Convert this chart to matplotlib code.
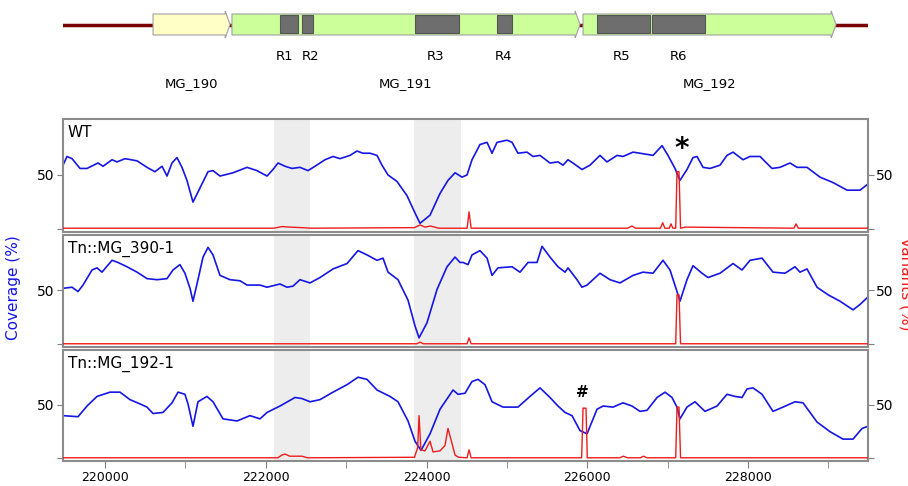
import matplotlib.pyplot as plt
from matplotlib.patches import Polygon, Rectangle

# genome window shown
x_min, x_max = 219478, 229492

# gene map
genes = ["MG_190", "MG_191", "MG_192"]
gene_start = [220598, 221580, 225947]
gene_end = [221556, 225909, 229094]
gene_colors = ["#ffffc6", "#ccff99", "#ccff99"]

regions = ["R1", "R2", "R3", "R4", "R5", "R6"]
region_start = [222177, 222451, 223857, 224877, 226121, 226806]
region_end = [222401, 222588, 224405, 225064, 226781, 227465]
region_label_x = [222240, 222560, 224118, 224960, 226430, 227140]

shaded = [(222103, 222551), (223844, 224429)]

samples = ["WT", "Tn::MG_390-1", "Tn::MG_192-1"]

# coverage (%) per sample
wt_pos = [219478, 219528, 219590, 219690, 219777, 219913, 219976, 220088, 220150, 220249,
          220399, 220523, 220622, 220710, 220772, 220834, 220896, 220958, 221020, 221095,
          221182, 221282, 221344, 221431, 221593, 221767, 221891, 222016, 222090, 222153,
          222240, 222327, 222426, 222526, 222613, 222737, 222837, 222924, 223048, 223135,
          223210, 223297, 223384, 223446, 223521, 223633, 223757, 223857, 223919, 224044,
          224168, 224267, 224355, 224442, 224504, 224566, 224665, 224753, 224815, 224877,
          225001, 225064, 225138, 225250, 225325, 225412, 225536, 225636, 225698, 225760,
          225822, 225934, 226034, 226158, 226245, 226370, 226444, 226569, 226656, 226818,
          226930, 227004, 227091, 227153, 227240, 227315, 227365, 227440, 227527, 227651,
          227738, 227813, 227937, 228024, 228149, 228298, 228397, 228522, 228609, 228733,
          228895, 229057, 229231, 229393, 229480]
wt_cov = [59, 67, 65, 56, 56, 61, 58, 64, 62, 65,
          63, 57, 53, 58, 49, 61, 66, 57, 45, 25,
          38, 53, 54, 49, 52, 57, 54, 49, 55, 61,
          58, 56, 57, 54, 58, 64, 67, 65, 68, 72,
          70, 70, 68, 59, 50, 44, 31, 15, 5.5, 13,
          33, 45, 52, 48, 50, 64, 78, 80, 70, 80,
          82, 80, 70, 71, 67, 68, 61, 62, 59, 64,
          61, 55, 59, 68, 62, 68, 67, 71, 70, 68,
          77, 68, 56, 45, 55, 66, 67, 57, 56, 59,
          68, 71, 64, 67, 67, 56, 57, 61, 57, 57,
          48, 43, 36, 36, 41]

m390_pos = [219478, 219590, 219665, 219727, 219839, 219901, 219963, 220088, 220162, 220274,
            220399, 220523, 220647, 220772, 220846, 220933, 220995, 221058, 221095, 221157,
            221220, 221282, 221344, 221431, 221555, 221680, 221767, 221929, 222016, 222177,
            222265, 222339, 222426, 222551, 222675, 222837, 223011, 223148, 223260, 223384,
            223459, 223521, 223645, 223770, 223857, 223907, 224006, 224131, 224255, 224355,
            224417, 224454, 224516, 224566, 224665, 224753, 224815, 224889, 225064, 225163,
            225263, 225375, 225437, 225536, 225636, 225723, 225760, 225872, 225934, 225997,
            226158, 226283, 226407, 226569, 226693, 226818, 226942, 227029, 227116, 227153,
            227240, 227315, 227427, 227502, 227651, 227813, 227925, 228024, 228174, 228310,
            228460, 228584, 228646, 228733, 228858, 228995, 229144, 229306, 229393, 229492]
m390_cov = [52, 53, 49, 55, 69, 71, 67, 78, 76, 72,
            67, 61, 60, 61, 69, 74, 66, 52, 40, 60,
            81, 90, 83, 64, 60, 59, 55, 55, 53, 56,
            53, 54, 60, 57, 62, 70, 75, 87, 83, 78,
            80, 67, 60, 41, 17, 6, 20, 51, 72, 81,
            76, 76, 74, 83, 87, 80, 64, 71, 72, 67,
            76, 76, 91, 81, 72, 67, 71, 60, 53, 55,
            66, 60, 57, 64, 67, 66, 78, 69, 49, 40,
            60, 73, 66, 62, 66, 75, 69, 78, 80, 67,
            66, 72, 67, 70, 53, 46, 40, 32, 37, 44]

m192_pos = [219478, 219665, 219777, 219901, 220063, 220187, 220311, 220436, 220523, 220598,
            220722, 220834, 220909, 220995, 221033, 221095, 221157, 221269, 221344, 221468,
            221643, 221804, 221929, 222016, 222177, 222364, 222451, 222551, 222675, 222837,
            223011, 223148, 223260, 223384, 223546, 223645, 223770, 223857, 223932, 224044,
            224168, 224267, 224330, 224392, 224479, 224566, 224641, 224728, 224815, 224952,
            225138, 225287, 225412, 225536, 225636, 225723, 225810, 225909, 225997, 226121,
            226196, 226320, 226444, 226556, 226656, 226743, 226868, 226967, 227054, 227116,
            227153, 227240, 227340, 227464, 227614, 227738, 227838, 227925, 227987, 228062,
            228174, 228310, 228435, 228584, 228684, 228858, 229019, 229181, 229306, 229418,
            229492]
m192_cov = [40, 39, 49, 58, 62, 62, 55, 51, 48, 42,
            43, 52, 62, 60, 51, 30, 53, 58, 53, 37,
            35, 40, 37, 43, 49, 57, 56, 53, 55, 62,
            69, 76, 74, 64, 58, 53, 35, 16, 7.5, 23,
            46, 57, 64, 60, 61, 72, 74, 69, 53, 48,
            48, 58, 66, 57, 49, 43, 40, 26, 23, 46,
            49, 48, 52, 49, 44, 45, 57, 62, 57, 48,
            37, 48, 53, 44, 49, 60, 58, 57, 65, 66,
            60, 44, 48, 53, 52, 34, 25, 18, 18, 28,
            30]

# variant frequency (%) per sample
wt_var_pos = [219478, 222100, 222200, 222300, 222450, 222560, 223850, 223920, 223980, 224050,
              224150, 224505, 224529, 224555, 226500, 226556, 226600, 226910, 226938, 226965,
              227020, 227041, 227065, 227100, 227116, 227141, 227160, 227220, 228570, 228597,
              228625, 229492]
wt_var = [1, 1, 2.5, 2, 1.5, 1, 1.5, 4, 2, 3,
          1, 1, 16, 1, 1, 3, 1, 1, 6, 1,
          1, 5, 1, 1, 53, 53, 1, 2, 1, 5,
          1, 1]

m390_var_pos = [219478, 223880, 223920, 223960, 224505, 224529, 224555, 227100, 227116, 227141,
                227160, 229492]
m390_var = [0.5, 0.5, 2, 0.5, 0.5, 6, 0.5, 0.5, 46, 46,
            0.5, 0.5]

m192_var_pos = [219478, 222150, 222200, 222240, 222300, 222450, 222520, 223850, 223890, 223907,
                223930, 223981, 224044, 224081, 224168, 224230, 224267, 224317, 224355, 224400,
                224505, 224529, 224555, 225930, 225947, 225984, 226000, 226400, 226450, 226500,
                226660, 226700, 226740, 227100, 227116, 227141, 227160, 229492]
m192_var = [0.5, 0.5, 3, 4, 2, 2, 0.5, 1, 10, 40,
            8, 7, 16, 6, 7, 12, 28, 14, 3, 1,
            0.5, 8, 0.5, 0.5, 47, 47, 0.5, 0.5, 2, 0.5,
            0.5, 2, 0.5, 0.5, 48, 48, 0.5, 0.5]

coverage = [(wt_pos, wt_cov), (m390_pos, m390_cov), (m192_pos, m192_cov)]
variants = [(wt_var_pos, wt_var), (m390_var_pos, m390_var), (m192_var_pos, m192_var)]

W, H = 908, 486
fig = plt.figure(figsize=(W / 100, H / 100), dpi=100)

# ---- gene map on top ----
mp = fig.add_axes([63 / W, 1 - 100 / H, 805 / W, 100 / H])
mp.set_xlim(x_min, x_max)
mp.set_ylim(100, 0)
mp.axis("off")
mp.plot([x_min, x_max], [25, 25], color="#7a0000", lw=2.5, zorder=1)
tip = 60
for name, s, e, c in zip(genes, gene_start, gene_end, gene_colors):
    poly = Polygon([(s, 14), (e - tip, 14), (e - tip, 11), (e, 24.5), (e - tip, 38),
                    (e - tip, 35), (s, 35)], closed=True, facecolor=c,
                   edgecolor="#a0a0a0", lw=0.8, zorder=2)
    mp.add_patch(poly)
    mp.text((s + e) / 2, 84, name, ha="center", va="center", fontsize=9.5)
for name, s, e, lx in zip(regions, region_start, region_end, region_label_x):
    mp.add_patch(Rectangle((s, 15.5), e - s, 18, facecolor="#6e6e6e",
                           edgecolor="#555555", lw=0.8, zorder=3))
    mp.text(lx, 57, name, ha="center", va="center", fontsize=9.5)

# ---- three coverage panels ----
tops = [119, 235, 350]
bottoms = [232, 347, 461]
for i in range(3):
    ax = fig.add_axes([63 / W, 1 - bottoms[i] / H, 805 / W, (bottoms[i] - tops[i]) / H])
    for a, b in shaded:
        ax.axvspan(a, b, color="#ededed", lw=0, zorder=0)
    ax.plot(coverage[i][0], coverage[i][1], color="#1515e6", lw=1.2, zorder=2)
    ax.plot(variants[i][0], variants[i][1], color="#ee1c1c", lw=1.0, zorder=3)
    ax.set_xlim(x_min, x_max)
    ax.set_ylim(-2.5, 101.5)
    ax.set_yticks([0, 50])
    ax.set_yticklabels(["", "50"])
    ax.tick_params(axis="y", right=True, labelright=True, labelsize=10,
                   color="#808080", length=4, pad=2)
    for sp in ax.spines.values():
        sp.set_color("#8c8c8c")
        sp.set_linewidth(1.5)
    ax.text(0.006, 0.95, samples[i], transform=ax.transAxes, ha="left", va="top",
            fontsize=11)
    if i < 2:
        ax.set_xticks([])
    else:
        ax.set_xticks([220000, 222000, 224000, 226000, 228000])
        ax.set_xticklabels(["220000", "222000", "224000", "226000", "228000"])
        ax.set_xticks([221000, 223000, 225000, 227000, 229000], minor=True)
        ax.tick_params(axis="x", which="both", labelsize=9, color="#808080",
                       length=5, pad=2)
    if i == 0:
        ax.text(227170, 74, "*", ha="center", va="center", fontsize=20,
                fontweight="bold")
    if i == 2:
        ax.text(225934, 62, "#", ha="center", va="center", fontsize=11,
                fontweight="bold")

fig.text(14 / W, 1 - 288 / H, "Coverage (%)", color="#1515e6", fontsize=11,
         rotation=90, ha="center", va="center")
# the reference cuts this label at the right edge
fig.text(906 / W, 1 - 284 / H, "Variants (%)", color="#ee1c1c", fontsize=11,
         rotation=270, ha="center", va="center")

fig.savefig("out.png", dpi=100)
